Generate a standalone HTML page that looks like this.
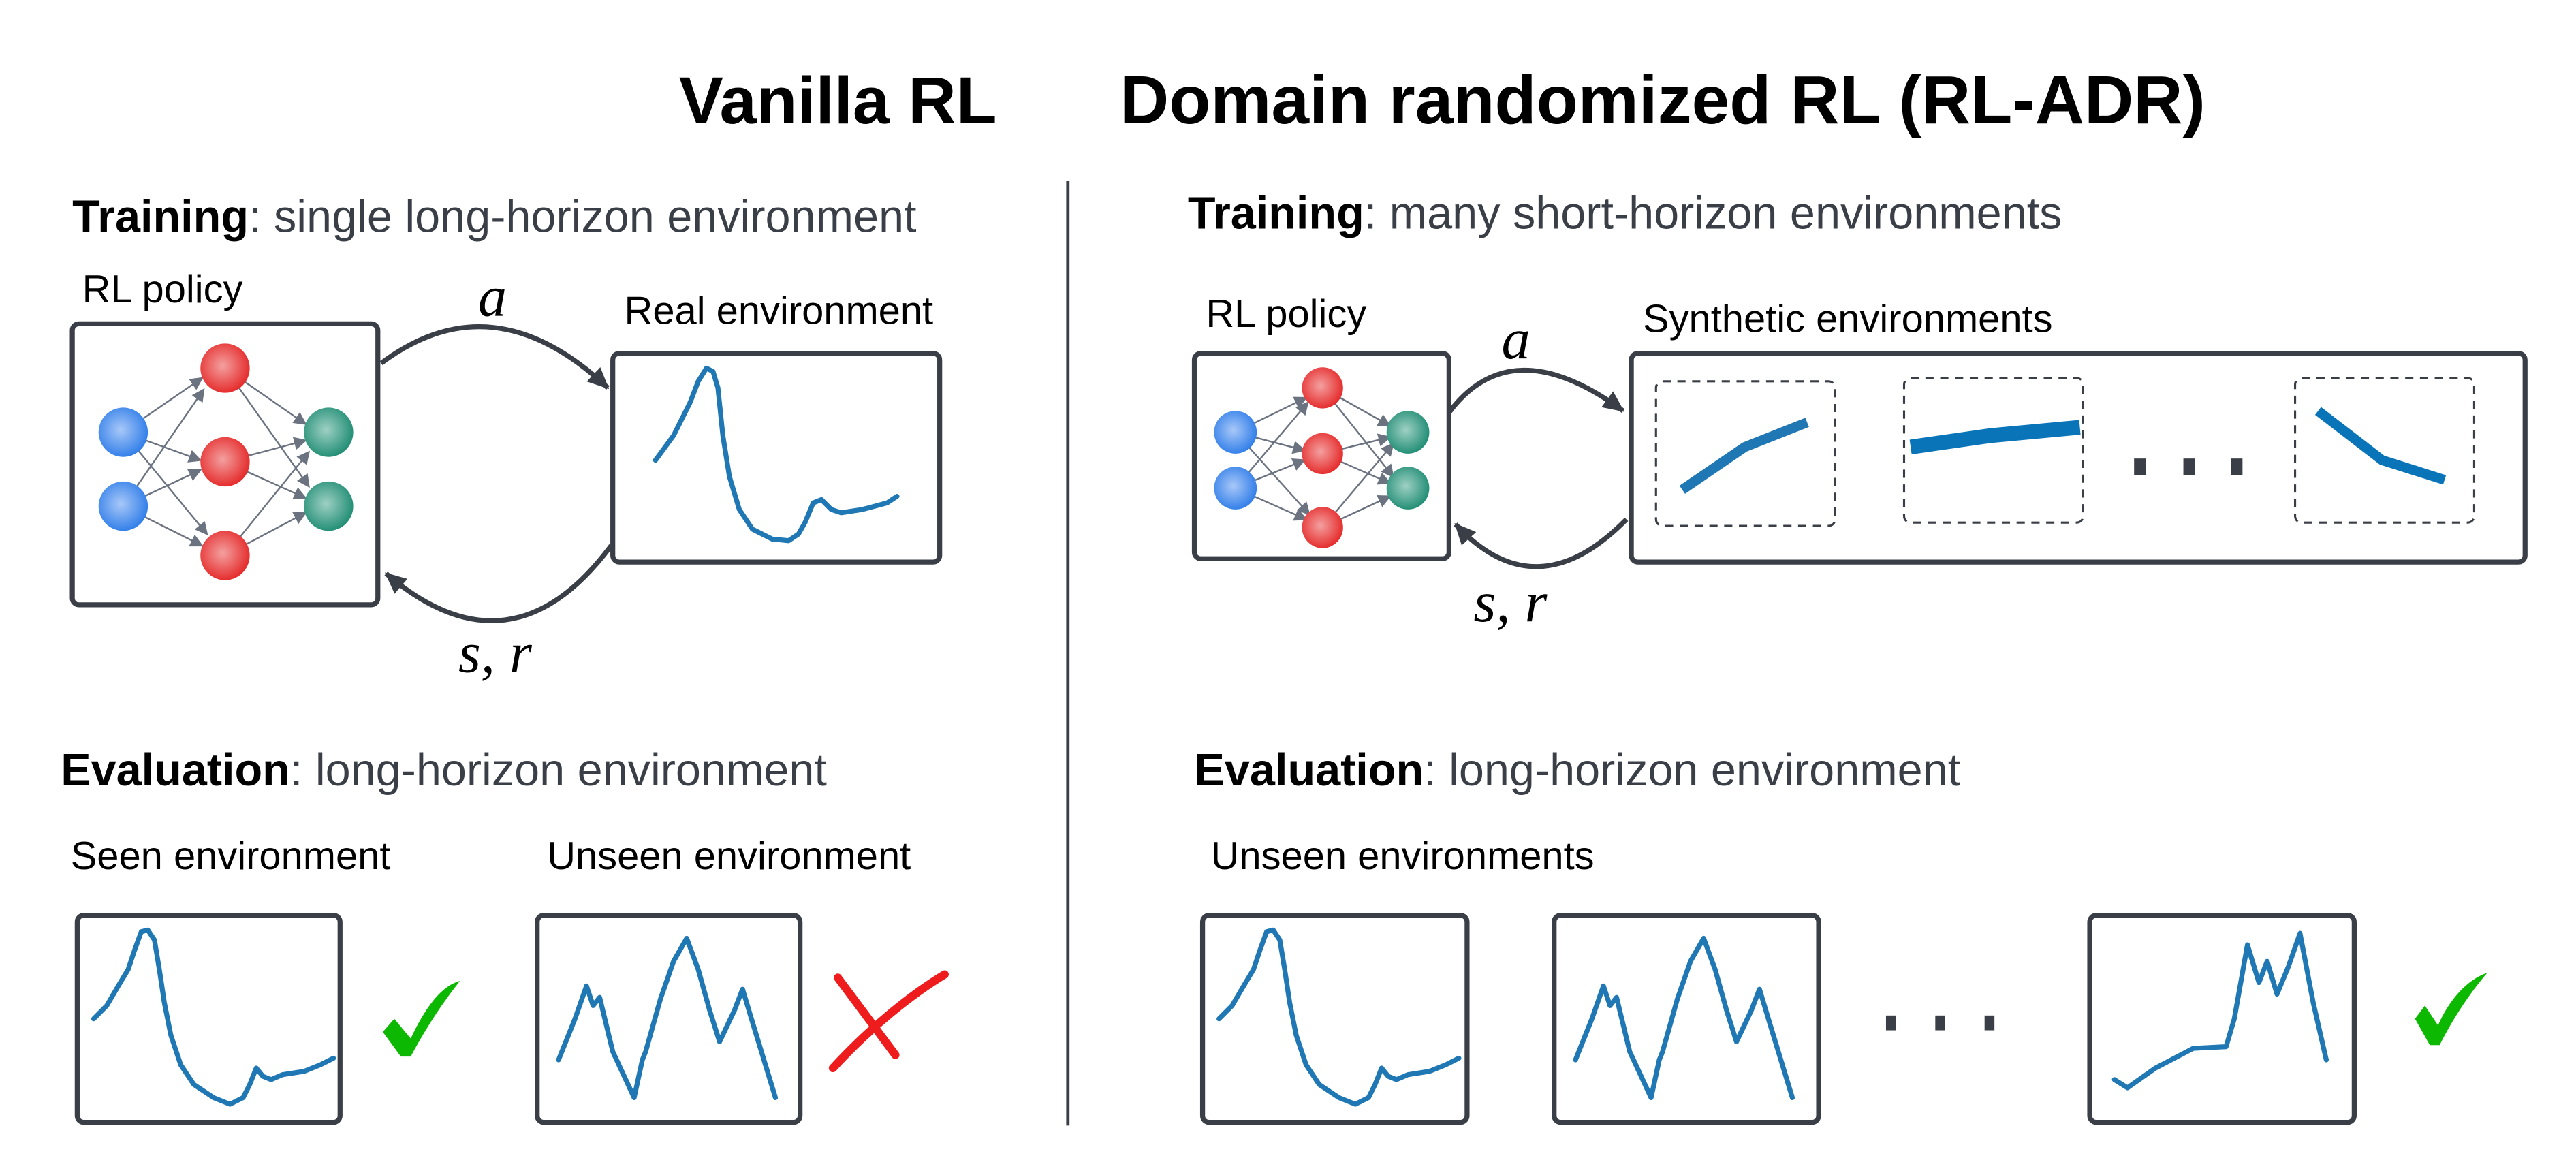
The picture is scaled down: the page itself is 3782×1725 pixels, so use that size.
<!DOCTYPE html>
<html><head><meta charset="utf-8"><style>
html,body{margin:0;padding:0;background:#fff;}
svg{display:block;}
text{font-family:"Liberation Sans",sans-serif;}
.t{font-size:27.6px;fill:#3a3f47;}
.b{font-weight:bold;fill:#000;}
.l{font-size:24px;fill:#000;}
.m{font-family:"Liberation Serif",serif;font-style:italic;font-size:35px;fill:#000;}
.box{fill:#fff;stroke:#3a3f47;stroke-width:3;}
.dbox{fill:none;stroke:#3a3f47;stroke-width:1.3;stroke-dasharray:5,4;}
.c{fill:none;stroke:#1f77b4;stroke-width:3;stroke-linejoin:round;stroke-linecap:round;}
.arr{fill:none;stroke:#3a3f47;stroke-width:3;}
.nn{stroke:#6b7280;stroke-width:1;}
</style></head><body>
<svg width="3782" height="1725" viewBox="0 0 1568 715" xmlns="http://www.w3.org/2000/svg">
<defs>
<radialGradient id="gb" cx="45%" cy="45%" r="60%"><stop offset="0" stop-color="#a8c8f8"/><stop offset="1" stop-color="#2a7ae8"/></radialGradient>
<radialGradient id="gr" cx="45%" cy="45%" r="60%"><stop offset="0" stop-color="#f4a0a0"/><stop offset="1" stop-color="#e42424"/></radialGradient>
<radialGradient id="gg" cx="45%" cy="45%" r="60%"><stop offset="0" stop-color="#9ed0c4"/><stop offset="1" stop-color="#1a8a70"/></radialGradient>
<marker id="ah" markerWidth="8" markerHeight="8" refX="7" refY="4" orient="auto" markerUnits="userSpaceOnUse"><path d="M0,0 L8,4 L0,8 z" fill="#6b7280"/></marker>
<marker id="ab" markerWidth="14" markerHeight="14" refX="12" refY="7" orient="auto" markerUnits="userSpaceOnUse"><path d="M0,1 L13,7 L0,13 z" fill="#3a3f47"/></marker>
</defs>

<text x="510" y="75" text-anchor="middle" font-size="40.5" font-weight="bold">Vanilla RL</text>
<text x="1012" y="75" text-anchor="middle" font-size="41.5" font-weight="bold">Domain randomized RL (RL-ADR)</text>
<line x1="650" y1="110" x2="650" y2="685" stroke="#3a3f47" stroke-width="2"/>

<text x="44" y="141" class="t"><tspan class="b">Training</tspan>: single long-horizon environment</text>
<text x="50" y="184" class="l">RL policy</text>
<text x="380" y="197" class="l">Real environment</text>
<rect x="44" y="197" width="186" height="171" rx="4" class="box"/>
<rect x="373" y="215" width="199" height="127" rx="4" class="box"/>
<path class="arr" d="M232,221 Q300,170 370,236" marker-end="url(#ab)"/>
<path class="arr" d="M372,332 Q311,414 235,349" marker-end="url(#ab)"/>
<text x="291" y="192" class="m">a</text>
<text x="279" y="409" class="m">s, r</text>
<g>
<g class="nn">
<line x1="75" y1="263" x2="123" y2="230" marker-end="url(#ah)"/><line x1="75" y1="263" x2="122" y2="280" marker-end="url(#ah)"/><line x1="75" y1="263" x2="126" y2="325" marker-end="url(#ah)"/>
<line x1="75" y1="308" x2="124" y2="237" marker-end="url(#ah)"/><line x1="75" y1="308" x2="122" y2="286" marker-end="url(#ah)"/><line x1="75" y1="308" x2="123" y2="332" marker-end="url(#ah)"/>
<line x1="137" y1="224" x2="186" y2="258" marker-end="url(#ah)"/><line x1="137" y1="224" x2="188" y2="296" marker-end="url(#ah)"/>
<line x1="137" y1="281" x2="186" y2="268" marker-end="url(#ah)"/><line x1="137" y1="281" x2="186" y2="303" marker-end="url(#ah)"/>
<line x1="137" y1="338" x2="188" y2="275" marker-end="url(#ah)"/><line x1="137" y1="338" x2="186" y2="312" marker-end="url(#ah)"/>
</g>
<circle cx="75" cy="263" r="15" fill="url(#gb)"/><circle cx="75" cy="308" r="15" fill="url(#gb)"/>
<circle cx="137" cy="224" r="15" fill="url(#gr)"/><circle cx="137" cy="281" r="15" fill="url(#gr)"/><circle cx="137" cy="338" r="15" fill="url(#gr)"/>
<circle cx="200" cy="263" r="15" fill="url(#gg)"/><circle cx="200" cy="308" r="15" fill="url(#gg)"/>
</g>
<polyline class="c" points="399,280 410,265 420,245 425,232 430,224 434,226 437,236 440,265 444,290 450,310 458,322 470,328 480,329 486,325 490,318 495,306 500,304 506,310 512,312 525,310 540,306 546,302"/>

<text x="37" y="478" class="t"><tspan class="b">Evaluation</tspan>: long-horizon environment</text>
<text x="43" y="529" class="l">Seen environment</text>
<text x="333" y="529" class="l">Unseen environment</text>
<rect x="47" y="557" width="160" height="126" rx="4" class="box"/>
<rect x="327" y="557" width="160" height="126" rx="4" class="box"/>
<polyline class="c" points="57,620 65,612 72,600 78,590 82,578 86,567 90,566 94,572 97,590 100,610 104,630 110,648 118,660 130,668 140,672 148,668 152,660 156,650 160,655 165,657 172,654 185,652 195,648 203,644"/>
<polyline class="c" stroke-width="2.5" points="340,645 350,620 357,600 361,612 365,607 373,640 386,668 391,645 393,640 402,608 410,585 418,571 425,590 432,615 438,634 447,615 452,602 458,622 465,645 472,668"/>
<path d="M233,628 L240,620 L250,632 C258,615 268,600 280,597 C268,612 258,628 250,643 L244,643 Z" fill="#0cb800"/>
<path d="M510,595 L545,642 M575,593 C555,605 530,625 507,650" stroke="#ee1c1c" stroke-width="5" fill="none" stroke-linecap="round"/>

<text x="723" y="139" class="t"><tspan class="b">Training</tspan>: many short-horizon environments</text>
<text x="734" y="199" class="l">RL policy</text>
<text x="1000" y="202" class="l">Synthetic environments</text>
<rect x="727" y="215" width="155" height="125" rx="4" class="box"/>
<rect x="993" y="215" width="544" height="127" rx="4" class="box"/>
<path class="arr" d="M882,251 Q920,200 988,250" marker-end="url(#ab)"/>
<path class="arr" d="M990,316 Q935,372 886,319" marker-end="url(#ab)"/>
<text x="914" y="218" class="m">a</text>
<text x="897" y="378" class="m">s, r</text>
<g>
<g class="nn" stroke-width="0.8">
<line x1="752" y1="263" x2="795" y2="242" marker-end="url(#ah)"/><line x1="752" y1="263" x2="794" y2="274" marker-end="url(#ah)"/><line x1="752" y1="263" x2="797" y2="313" marker-end="url(#ah)"/>
<line x1="752" y1="297" x2="796" y2="245" marker-end="url(#ah)"/><line x1="752" y1="297" x2="794" y2="280" marker-end="url(#ah)"/><line x1="752" y1="297" x2="795" y2="316" marker-end="url(#ah)"/>
<line x1="805" y1="236" x2="846" y2="259" marker-end="url(#ah)"/><line x1="805" y1="236" x2="848" y2="290" marker-end="url(#ah)"/>
<line x1="805" y1="276" x2="846" y2="266" marker-end="url(#ah)"/><line x1="805" y1="276" x2="846" y2="294" marker-end="url(#ah)"/>
<line x1="805" y1="321" x2="848" y2="270" marker-end="url(#ah)"/><line x1="805" y1="321" x2="846" y2="302" marker-end="url(#ah)"/>
</g>
<circle cx="752" cy="263" r="13" fill="url(#gb)"/><circle cx="752" cy="297" r="13" fill="url(#gb)"/>
<circle cx="805" cy="236" r="12.5" fill="url(#gr)"/><circle cx="805" cy="276" r="12.5" fill="url(#gr)"/><circle cx="805" cy="321" r="12.5" fill="url(#gr)"/>
<circle cx="857" cy="263" r="13" fill="url(#gg)"/><circle cx="857" cy="297" r="13" fill="url(#gg)"/>
</g>
<rect x="1008" y="232" width="109" height="88" rx="4" class="dbox"/>
<rect x="1159" y="230" width="109" height="88" rx="4" class="dbox"/>
<rect x="1397" y="230" width="109" height="88" rx="4" class="dbox"/>
<polyline points="1024,298 1062,272 1100,257" fill="none" stroke="#1f77b4" stroke-width="6"/>
<polyline points="1163,272 1212,265 1266,260" fill="none" stroke="#0a74b8" stroke-width="9"/>
<polyline points="1411,250 1450,280 1488,292" fill="none" stroke="#0a74b8" stroke-width="6"/>
<rect x="1299" y="279" width="7" height="10" fill="#3a3f47"/><rect x="1329" y="279" width="7" height="10" fill="#3a3f47"/><rect x="1358" y="279" width="7" height="10" fill="#3a3f47"/>

<text x="727" y="478" class="t"><tspan class="b">Evaluation</tspan>: long-horizon environment</text>
<text x="737" y="529" class="l">Unseen environments</text>
<rect x="732" y="557" width="161" height="126" rx="4" class="box"/>
<rect x="946" y="557" width="161" height="126" rx="4" class="box"/>
<rect x="1272" y="557" width="161" height="126" rx="4" class="box"/>
<polyline class="c" transform="translate(685,0)" points="57,620 65,612 72,600 78,590 82,578 86,567 90,566 94,572 97,590 100,610 104,630 110,648 118,660 130,668 140,672 148,668 152,660 156,650 160,655 165,657 172,654 185,652 195,648 203,644"/>
<polyline class="c" stroke-width="2.5" transform="translate(619,0)" points="340,645 350,620 357,600 361,612 365,607 373,640 386,668 391,645 393,640 402,608 410,585 418,571 425,590 432,615 438,634 447,615 452,602 458,622 465,645 472,668"/>
<polyline class="c" stroke="#0a74b8" stroke-width="2.5" points="1287,657 1295,662 1312,650 1335,638 1355,637 1360,620 1368,575 1375,598 1380,585 1386,605 1393,588 1400,568 1408,610 1416,645"/>
<rect x="1148" y="618" width="6" height="9" fill="#3a3f47"/><rect x="1178" y="618" width="6" height="9" fill="#3a3f47"/><rect x="1208" y="618" width="6" height="9" fill="#3a3f47"/>
<path d="M1470,620 L1476,612 L1484,624 C1491,608 1502,596 1514,592 C1502,606 1492,622 1485,636 L1479,636 Z" fill="#0cb800"/>
</svg>
</body></html>
